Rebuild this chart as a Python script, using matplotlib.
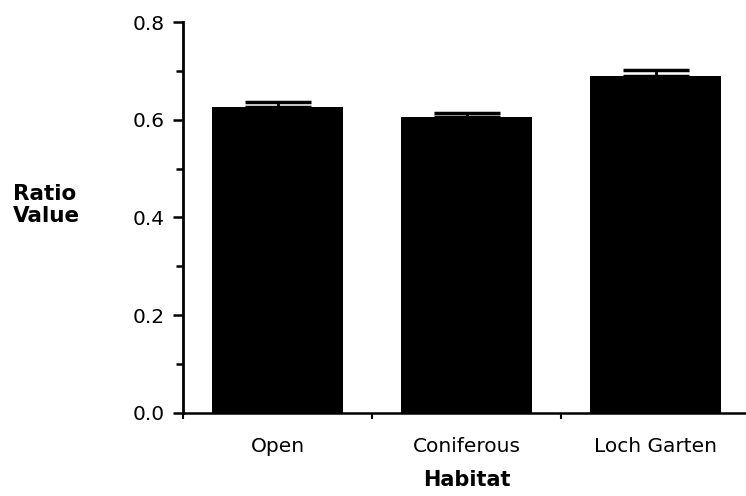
import numpy as np
import matplotlib
matplotlib.use('Agg')
import matplotlib.pyplot as plt
from matplotlib.ticker import MultipleLocator, FixedLocator

# Ratio value per habitat (mean and upper standard error)
habitats = ["Open", "Coniferous", "Loch Garten"]
ratio_mean = [0.627, 0.605, 0.689]
ratio_se = [0.010, 0.009, 0.013]

plt.rcParams.update({
    "font.family": "DejaVu Sans",
    "font.size": 14.5,
})

fig = plt.figure(figsize=(7.46, 4.96), dpi=100)
ax = fig.add_axes([183 / 746, 83 / 496, (750 - 183) / 746, (413 - 22) / 496])

x = np.arange(len(habitats))
ax.bar(x, ratio_mean, width=0.69, color="black", zorder=2)
ax.errorbar(x, ratio_mean, yerr=[np.zeros(len(x)), ratio_se], fmt="none",
            ecolor="black", elinewidth=2, capsize=23.5, capthick=2.5, zorder=3)

ax.set_xlim(-0.5, 2.5)
ax.set_ylim(0, 0.8)

for side in ["top", "right"]:
    ax.spines[side].set_visible(False)
ax.spines["left"].set_linewidth(2)
ax.spines["bottom"].set_linewidth(1.8)

# y axis: labelled ticks every 0.2, plain ticks between
ax.yaxis.set_major_locator(MultipleLocator(0.2))
ax.yaxis.set_minor_locator(MultipleLocator(0.1))
ax.yaxis.set_major_formatter(matplotlib.ticker.FormatStrFormatter("%.1f"))
ax.tick_params(axis="y", which="major", direction="out", length=7, width=1.8, pad=6)
ax.tick_params(axis="y", which="minor", direction="out", length=5, width=1.8)

# x axis: labels under the bars, small ticks at the category boundaries
ax.set_xticks(x)
ax.set_xticklabels(habitats)
ax.xaxis.set_minor_locator(FixedLocator([-0.5, 0.5, 1.5]))
ax.tick_params(axis="x", which="major", length=0, pad=17)
ax.tick_params(axis="x", which="minor", direction="out", length=4, width=1.5)

ax.set_xlabel("Habitat", fontweight="bold", fontsize=15, labelpad=10)
fig.text(13 / 746, 1 - 205 / 496, "Ratio\nValue", fontweight="bold", fontsize=15.5,
         ha="left", va="center", linespacing=1.15)

fig.savefig("out.png", dpi=100)
